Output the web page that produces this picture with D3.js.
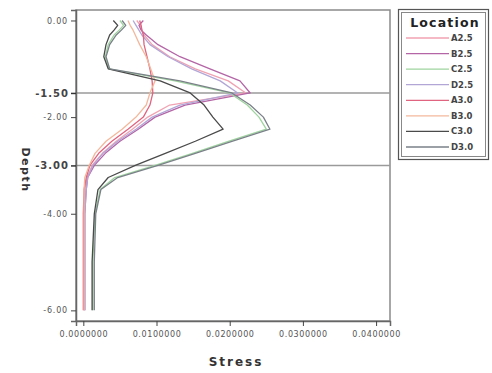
<!DOCTYPE html>
<html>
<head>
<meta charset="utf-8">
<script src="https://cdn.jsdelivr.net/npm/d3@7"></script>
<style>
  html, body { margin: 0; padding: 0; background: #fff; }
  svg { display: block; }
</style>
</head>
<body>
<svg id="chart" width="492" height="373"></svg>
<script>
// Depth levels (m) shared by every location profile
const depths = [0, -0.1, -0.2, -0.3, -0.5, -0.75, -1.0, -1.25, -1.5, -1.75,
                -2.0, -2.25, -2.5, -2.75, -3.0, -3.25, -3.5, -4.0, -5.0, -6.0];

// Location names, in legend order
const locations = ["A2.5", "B2.5", "C2.5", "D2.5", "A3.0", "B3.0", "C3.0", "D3.0"];

// Stress profiles per location (same order as depths)
const stressA25 = [0.0073, 0.0078, 0.0080, 0.0083, 0.0094, 0.0118, 0.0153, 0.0198, 0.0222, 0.0118,
                   0.0088, 0.0067, 0.0045, 0.0026, 0.0012, 0.0005, 0.0002, 0.0001, 0.0001, 0.0001];
const stressB25 = [0.0082, 0.0076, 0.0079, 0.0086, 0.0102, 0.0132, 0.0173, 0.0214, 0.0228, 0.0139,
                   0.0098, 0.0075, 0.0050, 0.0030, 0.0015, 0.0006, 0.0004, 0.0002, 0.0002, 0.0002];
const stressC25 = [0.0050, 0.0055, 0.0049, 0.0042, 0.0034, 0.0030, 0.0035, 0.0125, 0.0200, 0.0224,
                   0.0240, 0.0250, 0.0198, 0.0149, 0.0098, 0.0043, 0.0023, 0.0016, 0.0013, 0.0013];
const stressD25 = [0.0068, 0.0072, 0.0076, 0.0080, 0.0091, 0.0116, 0.0148, 0.0187, 0.0211, 0.0132,
                   0.0094, 0.0072, 0.0047, 0.0027, 0.0013, 0.0006, 0.0004, 0.0002, 0.0002, 0.0002];
const stressA30 = [0.0077, 0.0079, 0.0080, 0.0082, 0.0083, 0.0087, 0.0091, 0.0094, 0.0095, 0.0091,
                   0.0082, 0.0061, 0.0039, 0.0021, 0.0009, 0.0004, 0.0001, 0.0000, 0.0000, 0.0000];
const stressB30 = [0.0061, 0.0064, 0.0068, 0.0071, 0.0077, 0.0086, 0.0092, 0.0098, 0.0091, 0.0086,
                   0.0072, 0.0053, 0.0031, 0.0016, 0.0008, 0.0002, 0.0001, 0.0001, 0.0001, 0.0001];
const stressC30 = [0.0041, 0.0047, 0.0042, 0.0036, 0.0031, 0.0028, 0.0034, 0.0105, 0.0146, 0.0165,
                   0.0177, 0.0191, 0.0153, 0.0112, 0.0071, 0.0034, 0.0020, 0.0015, 0.0012, 0.0012];
const stressD30 = [0.0053, 0.0058, 0.0052, 0.0045, 0.0036, 0.0031, 0.0036, 0.0132, 0.0203, 0.0228,
                   0.0246, 0.0255, 0.0203, 0.0153, 0.0102, 0.0047, 0.0024, 0.0017, 0.0015, 0.0015];

const stressSeries = [stressA25, stressB25, stressC25, stressD25, stressA30, stressB30, stressC30, stressD30];

// Axis ticks and reference depths
const xTicks = [0, 0.01, 0.02, 0.03, 0.04];
const yTicks = [0, -2, -4, -6];
const refDepths = [-1.5, -3.0];

const colors = ["#f0a2b2", "#b465a6", "#9fd49f", "#b2a6d6", "#e0637f", "#f3b89c", "#4a4a4a", "#7a8088"];

const svg = d3.select("#chart");
const plot = { left: 76, right: 390, top: 10, bottom: 321 };

const x = d3.scaleLinear().domain([-0.001, 0.0419]).range([plot.left, plot.right]);
const y = d3.scaleLinear().domain([0.217, -6.22]).range([plot.top, plot.bottom]);

// Plot frame
svg.append("rect")
  .attr("x", plot.left).attr("y", plot.top)
  .attr("width", plot.right - plot.left).attr("height", plot.bottom - plot.top)
  .attr("fill", "#fff").attr("stroke", "#8a8a8a").attr("stroke-width", 1.5);

// Reference lines
svg.selectAll("line.ref").data(refDepths).join("line")
  .attr("class", "ref")
  .attr("x1", plot.left).attr("x2", plot.right)
  .attr("y1", d => y(d)).attr("y2", d => y(d))
  .attr("stroke", "#9a9a9a").attr("stroke-width", 1.5);

// Profiles
const line = d3.line().x(d => x(d[0])).y(d => y(d[1]));
svg.append("g").selectAll("path").data(stressSeries).join("path")
  .attr("d", s => line(s.map((v, i) => [v, depths[i]])))
  .attr("fill", "none")
  .attr("stroke", (s, i) => colors[i])
  .attr("stroke-width", 1.3)
  .attr("stroke-linejoin", "round");

// Y axis
const yAxis = svg.append("g")
  .attr("transform", `translate(${plot.left},0)`)
  .call(d3.axisLeft(y).tickValues(yTicks).tickSize(5).tickPadding(3).tickFormat(d => d.toFixed(2)));
yAxis.select(".domain").attr("stroke", "#666").attr("stroke-width", 1.5);
yAxis.selectAll(".tick line").attr("stroke", "#444");
yAxis.selectAll(".tick text")
  .attr("font-family", "DejaVu Sans").attr("font-size", 8).attr("fill", "#555")
  .attr("letter-spacing", 0.8);

// Reference depth labels
const refAxis = svg.append("g")
  .attr("transform", `translate(${plot.left},0)`)
  .call(d3.axisLeft(y).tickValues(refDepths).tickSize(5).tickPadding(2).tickFormat(d => d.toFixed(2)));
refAxis.select(".domain").remove();
refAxis.selectAll(".tick line").attr("stroke", "#333").attr("stroke-width", 1.5);
refAxis.selectAll(".tick text")
  .attr("font-family", "DejaVu Sans").attr("font-weight", "bold")
  .attr("font-size", 10).attr("fill", "#444").attr("letter-spacing", 1);

// X axis
const xAxis = svg.append("g")
  .attr("transform", `translate(0,${plot.bottom})`)
  .call(d3.axisBottom(x).tickValues(xTicks).tickSize(5).tickPadding(5).tickFormat(d => d.toFixed(7)));
xAxis.select(".domain").attr("stroke", "#666").attr("stroke-width", 1.5);
xAxis.selectAll(".tick line").attr("stroke", "#444");
xAxis.selectAll(".tick text")
  .attr("font-family", "DejaVu Sans").attr("font-size", 8).attr("fill", "#555")
  .attr("letter-spacing", 0.6);

// Axis titles
svg.append("text")
  .attr("transform", "translate(22,170) rotate(90)")
  .attr("text-anchor", "middle")
  .attr("font-family", "DejaVu Sans").attr("font-weight", "bold")
  .attr("font-size", 11).attr("letter-spacing", 1.5).attr("fill", "#333")
  .text("Depth");

svg.append("text")
  .attr("x", 236).attr("y", 366)
  .attr("text-anchor", "middle")
  .attr("font-family", "DejaVu Sans").attr("font-weight", "bold")
  .attr("font-size", 12).attr("letter-spacing", 2).attr("fill", "#333")
  .text("Stress");

// Legend
const legend = svg.append("g");
legend.append("rect")
  .attr("x", 398.5).attr("y", 9.5).attr("width", 90).attr("height", 150)
  .attr("fill", "#fff").attr("stroke", "#555").attr("stroke-width", 1.2);
legend.append("rect")
  .attr("x", 401.5).attr("y", 12.5).attr("width", 84).attr("height", 144)
  .attr("fill", "none").attr("stroke", "#888").attr("stroke-width", 1);
legend.append("text")
  .attr("x", 445).attr("y", 27)
  .attr("text-anchor", "middle")
  .attr("font-family", "DejaVu Sans").attr("font-weight", "bold")
  .attr("font-size", 12.5).attr("letter-spacing", 1.2).attr("fill", "#222")
  .text("Location");

const ly = d3.scalePoint().domain(locations).range([38, 147]);
const item = legend.selectAll("g.item").data(locations).join("g")
  .attr("class", "item")
  .attr("transform", d => `translate(0,${ly(d)})`);
item.append("line")
  .attr("x1", 406).attr("x2", 449).attr("y1", 0).attr("y2", 0)
  .attr("stroke", (d, i) => colors[i]).attr("stroke-width", 1.3);
item.append("text")
  .attr("x", 451).attr("y", 3)
  .attr("font-family", "DejaVu Sans").attr("font-weight", "bold")
  .attr("font-size", 8.5).attr("fill", "#444")
  .text(d => d);
</script>
</body>
</html>
